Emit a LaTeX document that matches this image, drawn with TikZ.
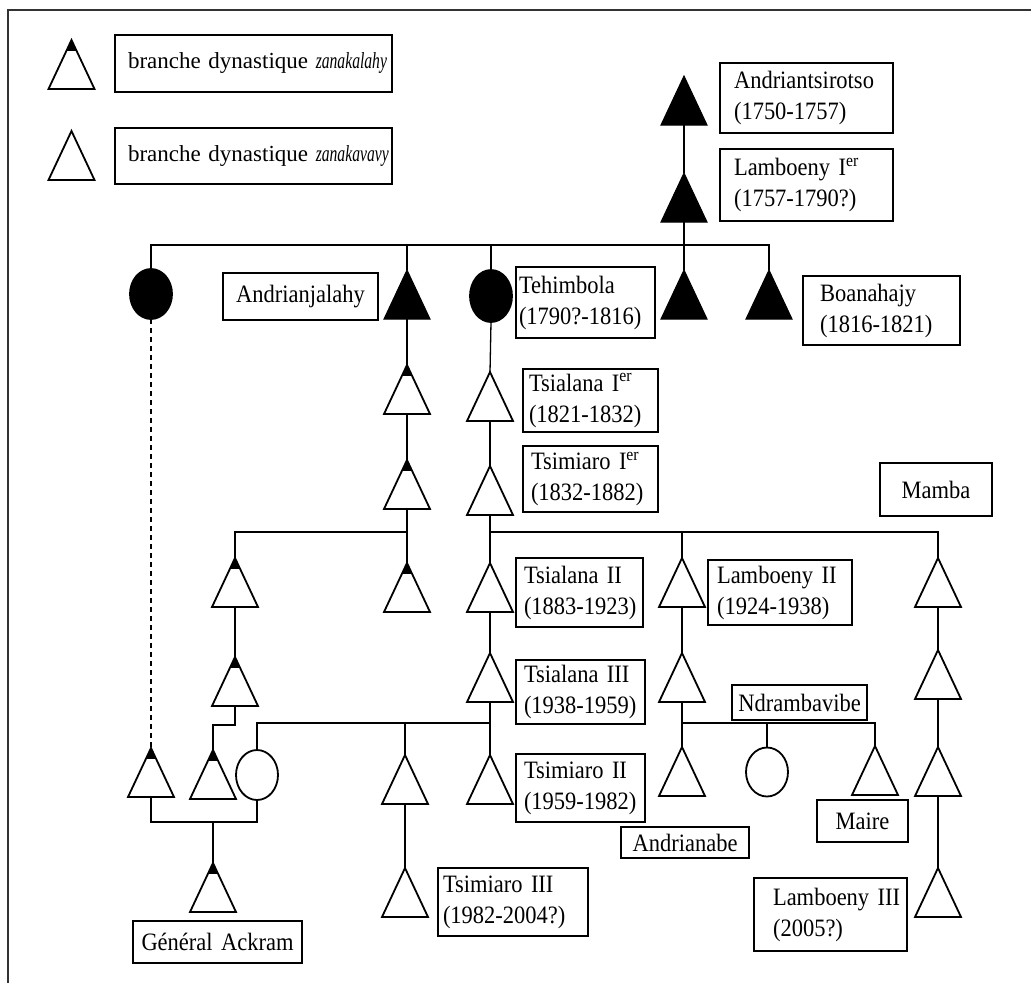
\documentclass[tikz,border=0pt]{standalone}
\usepackage{fontspec}
\usepackage{graphicx}
\setmainfont{Liberation Serif}
\newfontfamily\nfam[FakeStretch=0.9]{Liberation Serif}
\usetikzlibrary{calc,shapes.geometric}
\newcommand\namefont{\nfam\fontsize{25}{31}\selectfont}
\newcommand\legfont{\rmfamily\fontsize{23}{26}\selectfont}
\newcommand\NB[9]{% name, x1,y1,x2,y2,pad,align,font,text
  \pgfmathsetmacro\nbw{#4-#2-2*#6}%
  \node[namebox, inner xsep=#6pt, text width=\nbw pt, minimum height={#5-#3}, align=#7, font=#8] (#1) at ({(#2+#4)/2},{(#3+#5)/2}) {#9};}
\newcommand\TR[4]{% name, x, apex y, style
  \node[tribox] (#1) at (#2,{#3+24.5}) {};
  \draw[#4] (#1.north) -- (#1.south east) -- (#1.south west) -- cycle;}
\newcommand\TIP[1]{\fill (#1.north) -- ($(#1.north)!0.22!(#1.south east)$) -- ($(#1.north)!0.22!(#1.south west)$) -- cycle;}
\begin{document}
\begin{tikzpicture}[x=1pt,y=-1pt,
  conn/.style={line width=1.3pt},
  tribox/.style={minimum width=46pt, minimum height=49pt, inner sep=0pt, outer sep=0pt},
  triopen/.style={line width=1.8pt, line join=miter, fill=white},
  trifull/.style={line width=1pt, fill=black},
  namebox/.style={draw, line width=1.2pt, inner ysep=0pt},
  circ/.style={ellipse, draw, line width=1.8pt, minimum width=42pt, minimum height=50pt, inner sep=0pt, outer sep=0pt}]
\useasboundingbox (0,0) rectangle (1031,983);
\draw[line width=1.5pt, black!80] (1031,10) -- (8,10) -- (8,983);

% legend
\TR{lgT1}{71.5}{40}{triopen}\TIP{lgT1}
\TR{lgT2}{71.5}{131}{triopen}
\NB{lg1}{115}{35}{392}{92}{13}{left}{\legfont}{\mbox{branche dynastique \scalebox{0.68}[1]{\textit{zanakalahy}}}}
\NB{lg2}{115}{128}{392}{184}{13}{left}{\legfont}{\mbox{branche dynastique \scalebox{0.68}[1]{\textit{zanakavavy}}}}

% top
\TR{a0}{684}{76}{trifull}
\TR{l1}{684}{173}{trifull}
\NB{nAnd}{720}{63}{893}{133}{14}{left}{\namefont}{\mbox{Andriantsirotso}\\(1750-1757)}
\NB{nLam1}{720}{149}{893}{221}{14}{left}{\namefont}{\mbox{Lamboeny I\textsuperscript{er}}\\(1757-1790?)}

% generation of the children of Lamboeny I
\node[circ, fill=black] (c1) at (151,294) {};
\NB{nAjl}{223}{273}{378}{320}{4}{center}{\namefont}{Andrianjalahy}
\TR{t407}{407}{270}{trifull}
\node[circ, fill=black, minimum height=52pt] (c2) at (491,296) {};
\NB{nTeh}{516}{267}{655}{338}{3}{left}{\namefont}{Tehimbola\\\mbox{(1790?-1816)}}
\TR{t684}{684}{270}{trifull}
\TR{t769}{769}{270}{trifull}
\NB{nBoa}{803}{276}{960}{345}{17}{left}{\namefont}{Boanahajy\\(1816-1821)}

% column of Andrianjalahy
\TR{k1}{407}{365}{triopen}\TIP{k1}
\TR{k2}{407}{460}{triopen}\TIP{k2}
\TR{k3}{407}{563}{triopen}\TIP{k3}
\TR{j1}{235}{558}{triopen}\TIP{j1}
\TR{j2}{235}{657}{triopen}\TIP{j2}
\TR{j3}{213}{750}{triopen}\TIP{j3}
\TR{j0}{151}{748}{triopen}\TIP{j0}
\node[circ] (c4) at (257,775) {};
\TR{ga}{213}{863}{triopen}\TIP{ga}
\NB{nGA}{133}{921}{302}{963}{2}{center}{\namefont}{Général Ackram}

% column of Tehimbola
\TR{ts1}{490}{372}{triopen}
\NB{nTs1}{523}{369}{658}{432}{6}{left}{\namefont}{\mbox{Tsialana I\textsuperscript{er}}\\(1821-1832)}
\TR{tm1}{490}{466}{triopen}
\NB{nTm1}{523}{446}{658}{512}{8}{left}{\namefont}{\mbox{Tsimiaro I\textsuperscript{er}}\\(1832-1882)}
\TR{ts2}{490}{563}{triopen}
\NB{nTs2}{516}{558}{643}{627}{8}{left}{\namefont}{\mbox{Tsialana II}\\\mbox{(1883-1923)}}
\TR{ts3}{490}{653}{triopen}
\NB{nTs3}{516}{660}{645}{724}{8}{left}{\namefont}{\mbox{Tsialana III}\\\mbox{(1938-1959)}}
\TR{tm2}{490}{755}{triopen}
\NB{nTm2}{516}{754}{645}{822}{8}{left}{\namefont}{\mbox{Tsimiaro II}\\\mbox{(1959-1982)}}
\TR{p1}{405}{755}{triopen}
\TR{p2}{405}{868}{triopen}
\NB{nTm3}{438}{868}{588}{936}{5}{left}{\namefont}{\mbox{Tsimiaro III}\\\mbox{(1982-2004?)}}

% column of Lamboeny II
\TR{lb2}{682}{558}{triopen}
\NB{nLb2}{708}{560}{852}{625}{9}{left}{\namefont}{\mbox{Lamboeny II}\\\mbox{(1924-1938)}}
\TR{lx}{682}{653}{triopen}
\NB{nNdr}{732}{685}{867}{720}{2}{center}{\namefont}{Ndrambavibe}
\TR{an}{682}{747}{triopen}
\NB{nAnb}{621}{827}{749}{858}{2}{center}{\namefont}{Andrianabe}
\node[circ, minimum height=49pt] (c3) at (767,772) {};
\TR{ma}{875}{746}{triopen}
\NB{nMai}{817}{800}{908}{842}{2}{center}{\namefont}{Maire}

% column of Mamba
\NB{nMam}{880}{463}{992}{516}{4}{center}{\namefont}{Mamba}
\TR{m1}{938}{558}{triopen}
\TR{m2}{938}{650}{triopen}
\TR{m3}{938}{747}{triopen}
\TR{m4}{938}{868}{triopen}
\NB{nLb3}{754}{878}{907}{951}{19}{left}{\namefont}{\mbox{Lamboeny III}\\(2005?)}

% connectors
\coordinate (b1) at (0,245);
\coordinate (b2) at (0,532);
\coordinate (b2b) at (0,725);
\coordinate (b4) at (0,723);
\coordinate (b6) at (0,822);
\draw[conn] (a0.south) -- (l1.north);
\draw[conn] (l1.south) -- (t684.north);
\draw[conn] (c1.north) -- (c1.north |- b1) -- (t769.north |- b1) -- (t769.north);
\draw[conn] (t407.north) -- (t407.north |- b1);
\draw[conn] (c2.north) -- (c2.north |- b1);
\draw[line width=2pt, dash pattern=on 5pt off 4pt] (c1.south) -- (j0.north);
\draw[conn] (t407.south) -- (k1.north);
\draw[conn] (k1.south) -- (k2.north);
\draw[conn] (k2.south) -- (k3.north);
\draw[conn] (k2.south |- b2) -- (j1.north |- b2) -- (j1.north);
\draw[conn] (j1.south) -- (j2.north);
\draw[conn] (j2.south) -- (j2.south |- b2b) -- (j3.north |- b2b) -- (j3.north);
\draw[conn] (c2.south) -- (ts1.north);
\draw[conn] (ts1.south) -- (tm1.north);
\draw[conn] (tm1.south) -- (ts2.north);
\draw[conn] (ts2.south) -- (ts3.north);
\draw[conn] (ts3.south) -- (tm2.north);
\draw[conn] (tm1.south |- b2) -- (m1.north |- b2) -- (m1.north);
\draw[conn] (lb2.north) -- (lb2.north |- b2);
\draw[conn] (c4.north) -- (c4.north |- b4) -- (ts3.south |- b4);
\draw[conn] (p1.north) -- (p1.north |- b4);
\draw[conn] (p1.south) -- (p2.north);
\draw[conn] (lb2.south) -- (lx.north);
\draw[conn] (lx.south) -- (an.north);
\draw[conn] (an.north |- b4) -- (ma.north |- b4) -- (ma.north);
\draw[conn] (c3.north) -- (c3.north |- b4);
\draw[conn] (m1.south) -- (m2.north);
\draw[conn] (m2.south) -- (m3.north);
\draw[conn] (m3.south) -- (m4.north);
\draw[conn] (j0.south) -- (j0.south |- b6) -- (c4.south |- b6) -- (c4.south);
\draw[conn] (ga.north) -- (ga.north |- b6);
\end{tikzpicture}
\end{document}
